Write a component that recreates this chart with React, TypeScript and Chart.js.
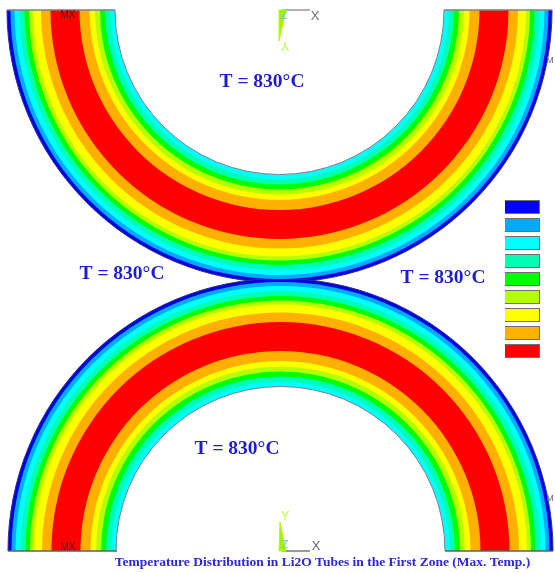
import React, { useEffect, useRef } from "react";
import { Chart, registerables } from "chart.js";

Chart.register(...registerables);

// Band outer radii, outermost first, and band colours
const bandRadii = [272.5, 269, 265, 260, 255, 250.5, 246.5, 238.5, 229, 200, 190, 184.5, 179.5, 174.5, 169.5];
const bandColors = ["#0000e6", "#00aaff", "#00ffff", "#00ffb4", "#00ff00", "#b4ff00", "#ffff00", "#ffb000", "#ff0000", "#ffb000", "#ffff00", "#b4ff00", "#00ff00", "#00ffb4", "#00ffff"];
const boreRadius = 164.5;
const tubeCentres = [{ x: 279.5, y: 10 }, { x: 280.5, y: 551 }];

const legendNames = ["1", "2", "3", "4", "5", "6", "7", "8", "9"];
const legendValues = [1, 1, 1, 1, 1, 1, 1, 1, 1];
const legendColors = ["#0000ff", "#00aaff", "#00ffff", "#00ffb4", "#00ff00", "#b4ff00", "#ffff00", "#ffb000", "#ff0000"];

const edgeLines = [
  { points: [{ x: 7, y: 10 }, { x: 115, y: 10 }], color: "#808080" },
  { points: [{ x: 444, y: 10 }, { x: 552, y: 10 }], color: "#808080" },
  { points: [{ x: 8, y: 551 }, { x: 117, y: 551 }], color: "#606060" },
  { points: [{ x: 445, y: 551 }, { x: 553, y: 551 }], color: "#606060" },
  { points: [{ x: 282, y: 10 }, { x: 310, y: 10 }], color: "#999999" },
  { points: [{ x: 282, y: 551 }, { x: 310, y: 551 }], color: "#777777" },
];
const spikes = [
  [{ x: 279, y: 10 }, { x: 286, y: 10 }, { x: 279, y: 41 }, { x: 279, y: 10 }],
  [{ x: 279, y: 551 }, { x: 286, y: 551 }, { x: 280, y: 522 }, { x: 279, y: 551 }],
];

const SERIF = "'Liberation Serif'";
const SANS = "'Liberation Sans'";
const BLUE = "#1c1cd6";
const textLabels = [
  { text: "T = 830°C", x: 262, y: 82, font: `bold 19.5px ${SERIF}`, color: BLUE },
  { text: "T = 830°C", x: 122, y: 274, font: `bold 19.5px ${SERIF}`, color: BLUE },
  { text: "T = 830°C", x: 443, y: 278, font: `bold 19.5px ${SERIF}`, color: BLUE },
  { text: "T = 830°C", x: 237, y: 449, font: `bold 19.5px ${SERIF}`, color: BLUE },
  { text: "Temperature Distribution in Li2O Tubes in the First Zone (Max. Temp.)", x: 322.5, y: 563, font: `bold 13.5px ${SERIF}`, color: "#2a2ad0" },
  { text: "MX", x: 68, y: 15, font: `10px ${SANS}`, color: "#551111" },
  { text: "MX", x: 68, y: 547, font: `10px ${SANS}`, color: "#551111" },
  { text: "M", x: 550, y: 61, font: `9px ${SANS}`, color: "#666666" },
  { text: "M", x: 550, y: 499, font: `9px ${SANS}`, color: "#666666" },
  { text: "X", x: 315, y: 16, font: `13px ${SANS}`, color: "#707070" },
  { text: "X", x: 316, y: 546, font: `13px ${SANS}`, color: "#666666" },
  { text: "Z", x: 284, y: 16, font: `11px ${SANS}`, color: "#66ccee" },
  { text: "Z", x: 285, y: 545, font: `11px ${SANS}`, color: "#66ccee" },
  { text: "Y", x: 285, y: 516, font: `13px ${SANS}`, color: "#bbff44" },
  { text: "Y", x: 285, y: 46, font: `13px ${SANS}`, color: "#bbff44", flip: true },
];

const textPlugin = {
  id: "imageText",
  afterDatasetsDraw(chart: any) {
    const { ctx, scales } = chart;
    ctx.save();
    ctx.textAlign = "center";
    ctx.textBaseline = "middle";
    for (const l of textLabels) {
      const px = scales.x.getPixelForValue(l.x);
      const py = scales.y.getPixelForValue(l.y);
      ctx.save();
      ctx.font = l.font;
      ctx.fillStyle = l.color;
      ctx.translate(px, py);
      if ((l as any).flip) ctx.scale(1, -1);
      ctx.fillText(l.text, 0, 0);
      ctx.restore();
    }
    ctx.restore();
  },
};

export default function App() {
  const mainRef = useRef<HTMLCanvasElement>(null);
  const legendRef = useRef<HTMLCanvasElement>(null);

  useEffect(() => {
    const lineSets = edgeLines.map((l) => ({
      type: "scatter" as const,
      data: l.points,
      showLine: true,
      borderColor: l.color,
      borderWidth: 1.5,
      pointRadius: 0,
      clip: 5,
    }));
    const spikeSets = spikes.map((s) => ({
      type: "scatter" as const,
      data: s,
      showLine: true,
      fill: "shape",
      backgroundColor: "#a8f000",
      borderColor: "#b4ff00",
      borderWidth: 1,
      pointRadius: 0,
      clip: 5,
    }));
    const bore = {
      type: "bubble" as const,
      data: tubeCentres.map((c) => ({ ...c, r: boreRadius })),
      backgroundColor: "#ffffff",
      borderColor: "#808080",
      borderWidth: 1,
      clip: 0,
    };
    // the chart paints later datasets first, so the innermost band comes first
    const bands = bandRadii
      .map((r, i) => ({
        type: "bubble" as const,
        data: tubeCentres.map((c) => ({ ...c, r })),
        backgroundColor: bandColors[i],
        borderColor: i === 0 ? "#303080" : bandColors[i],
        borderWidth: i === 0 ? 1 : 0,
        clip: 0,
      }))
      .reverse();

    const main = new Chart(mainRef.current!, {
      type: "bubble",
      data: { datasets: [...spikeSets, ...lineSets, bore, ...bands] as any },
      options: {
        animation: false,
        responsive: false,
        events: [],
        layout: { autoPadding: false, padding: { top: 10, bottom: 22, left: 0, right: 0 } },
        plugins: { legend: { display: false }, tooltip: { enabled: false } },
        scales: {
          x: { type: "linear", min: 0, max: 555, display: false },
          y: { type: "linear", min: 10, max: 551, reverse: true, display: false },
        },
      },
      plugins: [textPlugin],
    });

    const legend = new Chart(legendRef.current!, {
      type: "bar",
      data: {
        labels: legendNames,
        datasets: [
          {
            data: legendValues,
            backgroundColor: legendColors,
            borderColor: "#707070",
            borderWidth: 1,
            barPercentage: 14 / 18,
            categoryPercentage: 1,
          },
        ],
      },
      options: {
        indexAxis: "y",
        animation: false,
        responsive: false,
        events: [],
        layout: { padding: 0 },
        plugins: { legend: { display: false }, tooltip: { enabled: false } },
        scales: {
          x: { min: 0, max: 1, display: false },
          y: { display: false },
        },
      },
    });

    return () => {
      main.destroy();
      legend.destroy();
    };
  }, []);

  return (
    <div style={{ position: "absolute", left: 0, top: 0, width: 555, height: 573, background: "#fff", overflow: "hidden" }}>
      <canvas ref={mainRef} width={555} height={573} style={{ position: "absolute", left: 0, top: 0 }} />
      <canvas ref={legendRef} width={35} height={162} style={{ position: "absolute", left: 505, top: 198 }} />
    </div>
  );
}
